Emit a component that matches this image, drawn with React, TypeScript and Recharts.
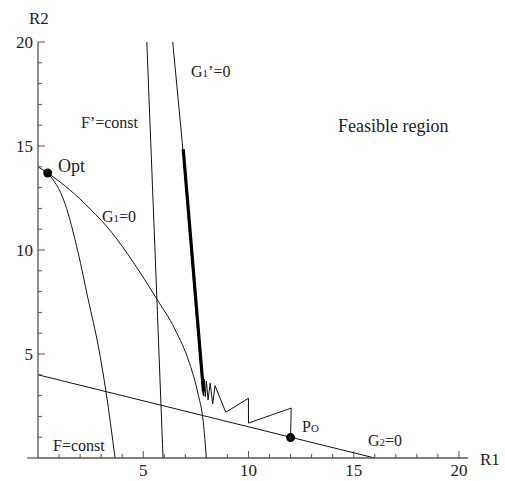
import React from "react";
import {
  LineChart,
  Line,
  XAxis,
  YAxis,
  Scatter,
  ReferenceLine,
} from "recharts";

// tick values (every unit, labels only on multiples of 5)
const axisTicks = Array.from({ length: 21 }, (_, i) => i);

// straight constraint G2 = 0
const g2Line = [
  { x: 0, y: 4 },
  { x: 16, y: 0 },
];

// objective contour F = const through the optimum
const fConst = [
  { x: 0.46, y: 13.7 },
  { x: 1.28, y: 12.24 },
  { x: 1.9, y: 9.9 },
  { x: 2.39, y: 7.6 },
  { x: 2.87, y: 5.35 },
  { x: 3.23, y: 3.19 },
  { x: 3.66, y: 0 },
];

// constraint G1 = 0
const g1Curve = [
  { x: 0, y: 14 },
  { x: 0.46, y: 13.7 },
  { x: 1.5, y: 12.9 },
  { x: 2.5, y: 11.95 },
  { x: 3.5, y: 10.85 },
  { x: 4.5, y: 9.45 },
  { x: 5.64, y: 7.65 },
  { x: 6.5, y: 6.2 },
  { x: 7.2, y: 4.55 },
  { x: 7.6, y: 3.1 },
  { x: 7.85, y: 1.75 },
  { x: 8.0, y: 0 },
];

// linearised objective F' = const
const fPrime = [
  { x: 5.17, y: 20 },
  { x: 5.67, y: 7.1 },
  { x: 5.94, y: 0 },
];

// linearised constraint G1' = 0
const g1Prime = [
  { x: 6.4, y: 20 },
  { x: 6.85, y: 15.2 },
  { x: 7.5, y: 7.1 },
  { x: 7.85, y: 3.0 },
];

// iteration path starting at Po
const pathThin = [
  { x: 12.0, y: 0.98 },
  { x: 12.03, y: 2.4 },
  { x: 10.0, y: 1.68 },
  { x: 10.0, y: 2.87 },
  { x: 8.92, y: 2.2 },
  { x: 8.41, y: 3.48 },
  { x: 8.3, y: 2.6 },
  { x: 8.18, y: 3.6 },
  { x: 8.08, y: 2.8 },
  { x: 8.0, y: 3.7 },
  { x: 7.95, y: 2.95 },
  { x: 7.9, y: 3.8 },
  { x: 7.87, y: 3.0 },
  { x: 7.84, y: 3.9 },
];

const pathThick = [
  { x: 7.86, y: 3.2 },
  { x: 6.9, y: 14.85 },
];

const optPoint = [{ x: 0.46, y: 13.7 }];
const poPoint = [{ x: 12.0, y: 0.98 }];

const FONT = "'Liberation Serif', 'Times New Roman', serif";
const AXIS = "#555";
const txt = { fontFamily: FONT };

const XTick = (props: any) => {
  const { x, y, payload } = props;
  const v = payload.value;
  if (v === 0) return null;
  const major = v % 5 === 0;
  return (
    <g>
      <line x1={x} y1={y} x2={x} y2={y - (major ? 7 : 4)} stroke={AXIS} />
      {major && (
        <text x={x} y={y + 18} textAnchor="middle" fontSize={17} style={txt} fill="#222">
          {v}
        </text>
      )}
    </g>
  );
};

const YTick = (props: any) => {
  const { x, y, payload } = props;
  const v = payload.value;
  if (v === 0) return null;
  const major = v % 5 === 0;
  return (
    <g>
      <line x1={x} y1={y} x2={x + (major ? 7 : 4)} y2={y} stroke={AXIS} />
      {major && (
        <text x={x - 5} y={y + 6} textAnchor="end" fontSize={17} style={txt} fill="#222">
          {v}
        </text>
      )}
    </g>
  );
};

const Dot = (p: any) => <circle cx={p.cx} cy={p.cy} r={4.5} fill="#000" />;

const Labels = () => (
  <g fill="#222" fontSize={16}>
    <text x={29} y={24} fontSize={17} style={txt}>R2</text>
    <text x={480} y={465} fontSize={17} style={txt}>R1</text>
    <text x={58} y={172} fontSize={18} style={txt}>Opt</text>
    <text x={102} y={222} style={txt}>
      G<tspan fontSize={11}>1</tspan>=0
    </text>
    <text x={191} y={77} style={txt}>
      G<tspan fontSize={11}>1</tspan>’=0
    </text>
    <text x={81} y={128} style={txt}>F’=const</text>
    <text x={338} y={132} fontSize={18} style={txt}>Feasible region</text>
    <text x={53} y={451} style={txt}>F=const</text>
    <text x={302} y={432} style={txt}>
      P<tspan fontSize={11}>O</tspan>
    </text>
    <text x={368} y={446} style={txt}>
      G<tspan fontSize={11}>2</tspan>=0
    </text>
  </g>
);

const lineProps = {
  dataKey: "y",
  stroke: "#111",
  strokeWidth: 1,
  dot: false,
  activeDot: false,
  isAnimationActive: false,
} as const;

export default function App() {
  return (
    <div style={{ position: "absolute", left: 0, top: 0, background: "#fff" }}>
      <LineChart
        width={505}
        height={481}
        margin={{ top: 42, right: 37, bottom: 0, left: 0 }}
      >
        <XAxis
          dataKey="x"
          type="number"
          domain={[0, 20.43]}
          allowDataOverflow
          ticks={axisTicks}
          interval={0}
          tickSize={0}
          tickMargin={0}
          tickLine={false}
          height={23}
          axisLine={{ stroke: AXIS, strokeWidth: 1.3 }}
          tick={<XTick />}
        />
        <YAxis
          dataKey="y"
          type="number"
          domain={[0, 20]}
          allowDataOverflow
          ticks={axisTicks}
          interval={0}
          tickSize={0}
          tickMargin={0}
          tickLine={false}
          width={38}
          axisLine={{ stroke: AXIS, strokeWidth: 1.3 }}
          tick={<YTick />}
        />
        <ReferenceLine
          segment={[
            { x: -0.52, y: 0 },
            { x: 0, y: 0 },
          ]}
          stroke={AXIS}
          strokeWidth={1.3}
          ifOverflow="visible"
        />
        <Line {...lineProps} data={g2Line} type="linear" />
        <Line {...lineProps} data={fConst} type="monotone" />
        <Line {...lineProps} data={g1Curve} type="monotone" />
        <Line {...lineProps} data={fPrime} type="linear" />
        <Line {...lineProps} data={g1Prime} type="linear" />
        <Line {...lineProps} data={pathThin} type="linear" />
        <Line {...lineProps} data={pathThick} type="linear" strokeWidth={3.2} stroke="#000" />
        <Scatter data={optPoint} dataKey="y" shape={<Dot />} isAnimationActive={false} />
        <Scatter data={poPoint} dataKey="y" shape={<Dot />} isAnimationActive={false} />
        <Labels />
      </LineChart>
    </div>
  );
}
